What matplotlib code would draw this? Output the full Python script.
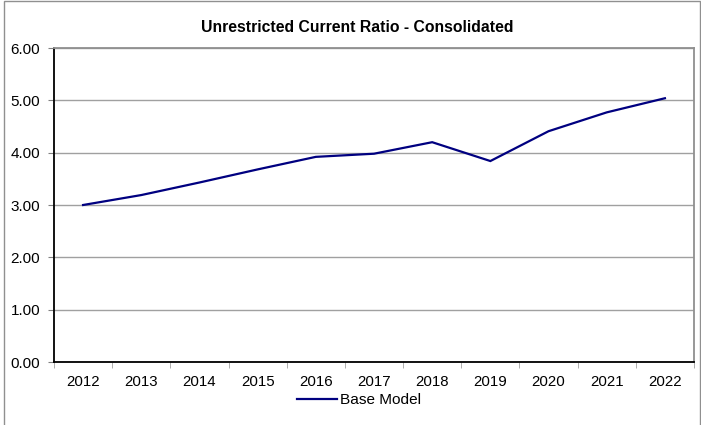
import matplotlib
matplotlib.use("Agg")
import matplotlib.pyplot as plt
from matplotlib.patches import Rectangle
import numpy as np

plt.rcParams['font.family'] = ['Liberation Sans', 'DejaVu Sans']

years = ['2012', '2013', '2014', '2015', '2016', '2017',
         '2018', '2019', '2020', '2021', '2022']
base_model = [3.00, 3.19, 3.43, 3.68, 3.92, 3.98, 4.20, 3.84, 4.41, 4.77, 5.04]
y_ticks = [0, 1, 2, 3, 4, 5, 6]

fig = plt.figure(figsize=(7.01, 4.25), dpi=100)
ax = fig.add_axes([54 / 701, 1 - 362 / 425, (694 - 54) / 701, (362 - 48) / 425])

x = np.arange(len(years))
ax.plot(x, base_model, color='#000080', lw=1.6, label='Base Model',
        solid_joinstyle='miter', zorder=3)

ax.set_xlim(-0.5, len(years) - 0.5)
ax.set_ylim(0, 6)
ax.set_yticks(y_ticks)
ax.set_yticklabels([f'{v:.2f}' for v in y_ticks], fontsize=11)
ax.set_xticks(x)
ax.set_xticklabels(years, fontsize=10.8)
ax.set_xticks(np.arange(len(years) + 1) - 0.5, minor=True)
ax.tick_params(axis='x', which='major', length=0, pad=9)
ax.tick_params(axis='x', which='minor', length=4, color='#a0a0a0', direction='out')
ax.tick_params(axis='y', length=4, color='#808080', direction='out', pad=6)

ax.grid(axis='y', color='#a0a0a0', lw=1)
ax.set_axisbelow(True)
for side in ('top', 'right'):
    ax.spines[side].set_color('#909090')
    ax.spines[side].set_linewidth(1.3)
for side in ('left', 'bottom'):
    ax.spines[side].set_color('black')
    ax.spines[side].set_linewidth(1.3)

fig.text(357 / 701, 1 - 27 / 425, 'Unrestricted Current Ratio - Consolidated',
         ha='center', va='center', fontsize=11.3, fontweight='bold')

fig.legend(loc='center', bbox_to_anchor=(359 / 701, 1 - 400 / 425), frameon=False,
           fontsize=11.1, handlelength=2.6, handletextpad=0.2, borderpad=0)

# outer chart frame
fig.patches.append(Rectangle((4 / 701, -0.01), 696 / 701, 1 - 1 / 425 + 0.01,
                             transform=fig.transFigure, fill=False,
                             edgecolor='#909090', lw=1))

fig.savefig('out.png', dpi=100)
